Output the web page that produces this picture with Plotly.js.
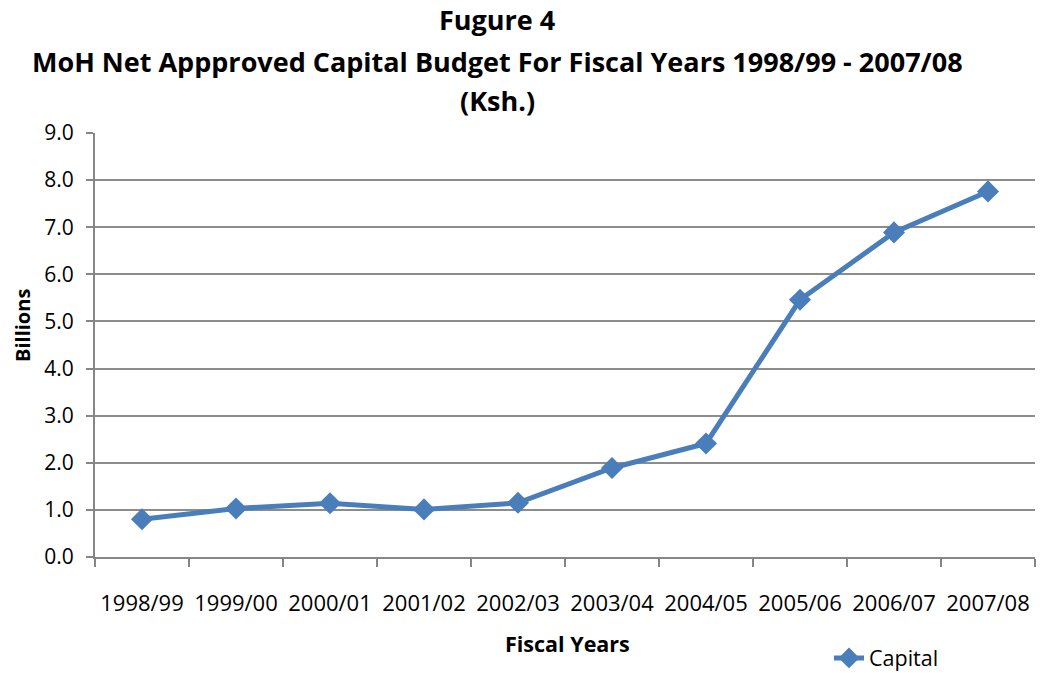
<!DOCTYPE html>
<html>
<head>
<meta charset="utf-8">
<script src="https://cdn.plot.ly/plotly-3.0.1.min.js"></script>
<style>body{margin:0;padding:0;background:#fff}#chart{width:1040px;height:673px}</style>
</head>
<body>
<div id="chart"></div>
<script>
const years = ["1998/99","1999/00","2000/01","2001/02","2002/03","2003/04","2004/05","2005/06","2006/07","2007/08"];
const capital = [0.80, 1.03, 1.14, 1.01, 1.15, 1.89, 2.41, 5.46, 6.89, 7.76];
const yTicks = [0,1,2,3,4,5,6,7,8,9];
const titleLines = ["Fugure 4","MoH Net Appproved Capital Budget For Fiscal Years 1998/99 - 2007/08","(Ksh.)"];

const FONT = "'Open Sans', sans-serif";
const L = 95, R = 5, T = 133, B = 116;
const W = 1040, H = 673;
const pw = W - L - R, ph = H - T - B;
const titleCenterX = (497 - L) / pw;
const titleY = [20, 62, 100];

const annotations = titleLines.map((t, i) => ({
  text: "<b>" + t + "</b>",
  xref: "paper", yref: "paper",
  x: titleCenterX, y: (H - B - titleY[i]) / ph,
  xanchor: "center", yanchor: "middle",
  showarrow: false,
  font: {family: FONT, size: 27, color: "#000"}
}));
annotations.push({
  text: "<b>Billions</b>", xref: "paper", yref: "paper",
  x: (22 - L) / pw, y: (H - B - 326) / ph, textangle: -90,
  xanchor: "center", yanchor: "middle", showarrow: false,
  font: {family: FONT, size: 20, color: "#000"}
});
annotations.push({
  text: "<b>Fiscal Years</b>", xref: "paper", yref: "paper",
  x: (567 - L) / pw, y: (H - B - 643) / ph,
  xanchor: "center", yanchor: "middle", showarrow: false,
  font: {family: FONT, size: 21.5, color: "#000"}
});

const trace = {
  x: years, y: capital, type: "scatter", mode: "lines+markers", name: "Capital",
  line: {color: "#4A7EBB", width: 5},
  marker: {symbol: "diamond", size: 17, color: "#4A7EBB"}
};

const layout = {
  width: W, height: H,
  margin: {l: L, r: R, t: T, b: B},
  paper_bgcolor: "#fff", plot_bgcolor: "#fff",
  font: {family: FONT, size: 20, color: "#000"},
  showlegend: true,
  legend: {
    xref: "paper", yref: "container",
    x: (829 - L) / pw, y: (H - 658) / H, xanchor: "left", yanchor: "middle",
    font: {family: FONT, size: 21.5, color: "#000"}, bgcolor: "rgba(0,0,0,0)",
    borderwidth: 0
  },
  xaxis: {
    type: "category", range: [-0.5, 9.5],
    showgrid: false, showline: true, linecolor: "#868686", linewidth: 2,
    ticks: "outside", tickson: "boundaries", ticklen: 8, tickcolor: "#868686", tickwidth: 2,
    ticklabelstandoff: 26, tickangle: 0, fixedrange: true,
    tickfont: {family: FONT, size: 22, color: "#000"}
  },
  yaxis: {
    range: [0, 9], tickvals: yTicks, ticktext: yTicks.map(v => v.toFixed(1)),
    showgrid: true, gridcolor: "#8C8C8C", gridwidth: 2,
    showline: true, linecolor: "#868686", linewidth: 2,
    ticks: "outside", ticklen: 7, tickcolor: "#868686", tickwidth: 2,
    ticklabelstandoff: 8,
    zeroline: false, fixedrange: true,
    tickfont: {family: FONT, size: 21, color: "#000"}
  },
  annotations: annotations
};

Plotly.newPlot("chart", [trace], layout, {displayModeBar: false, staticPlot: true});
</script>
</body>
</html>
